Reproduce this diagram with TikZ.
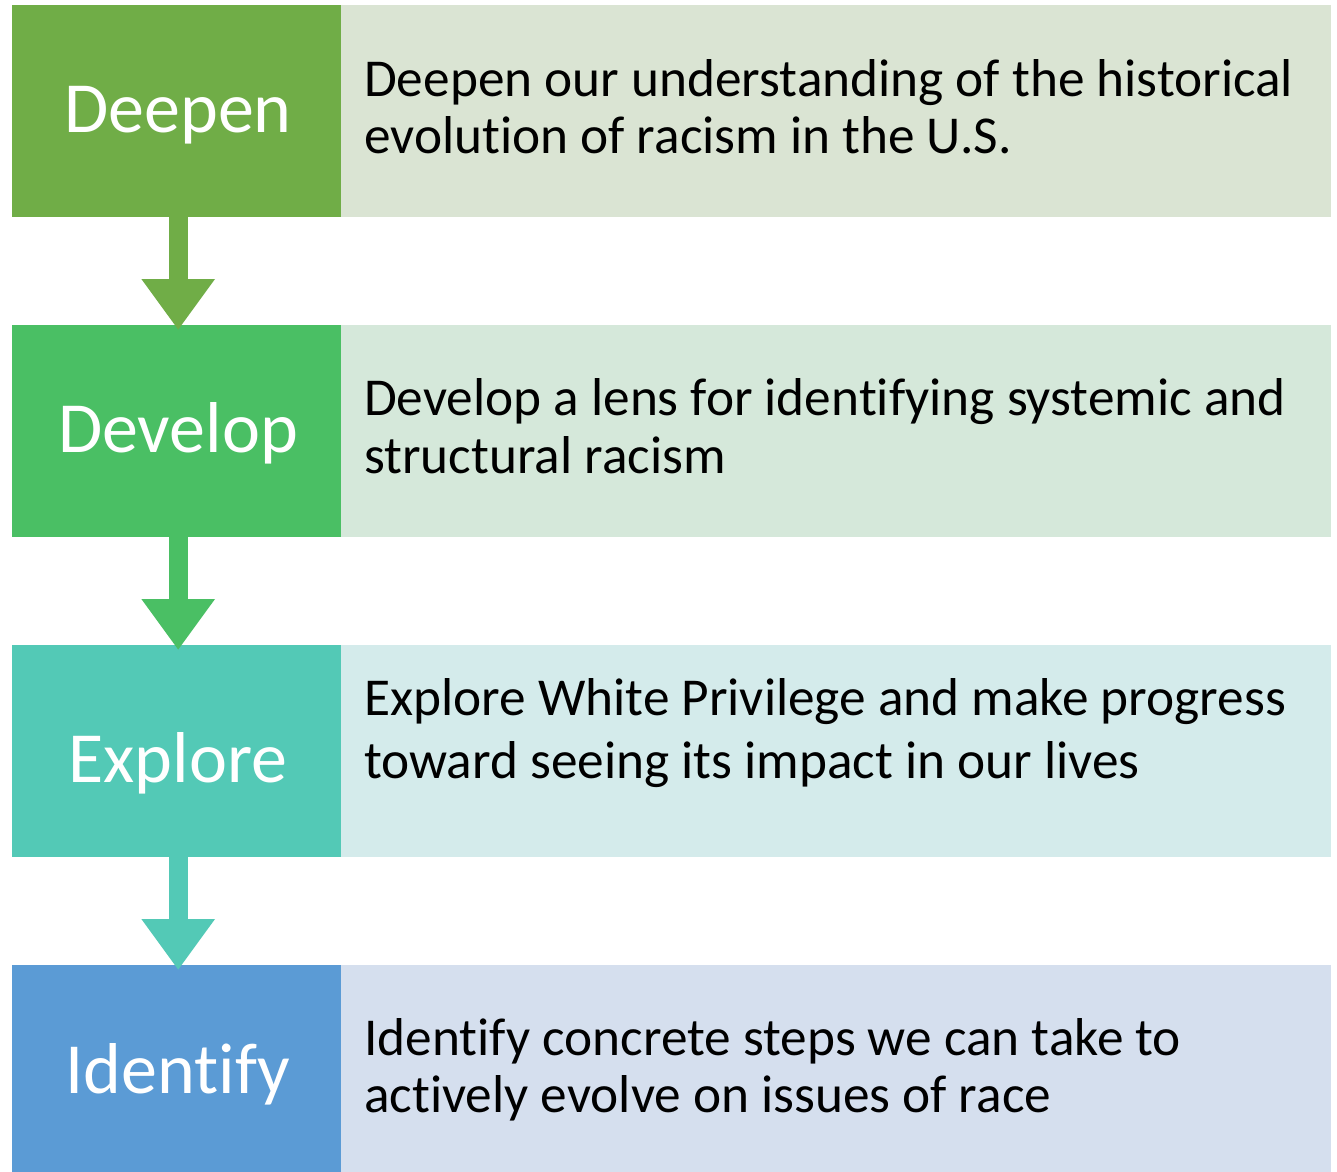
\documentclass[tikz,border=0pt]{standalone}
\usepackage{fontspec}
\setmainfont[Ligatures={CommonOff,ContextualOff}]{Carlito}
\usetikzlibrary{arrows.meta}
\definecolor{cDeepen}{HTML}{70AD47}
\definecolor{cDevelop}{HTML}{4ABF64}
\definecolor{cExplore}{HTML}{53C9B6}
\definecolor{cIdentify}{HTML}{5B9BD5}
\definecolor{lDeepen}{HTML}{DAE4D3}
\definecolor{lDevelop}{HTML}{D5E8DA}
\definecolor{lExplore}{HTML}{D4EBEB}
\definecolor{lIdentify}{HTML}{D5DFEE}
\tikzset{
  x=1pt, y=-1pt,
  headbox/.style={rectangle, inner sep=0pt, minimum width=329pt, minimum height=212pt, anchor=north west},
  descbox/.style={rectangle, inner sep=0pt, minimum width=990pt, minimum height=212pt, anchor=north west},
  headtext/.style={inner sep=0pt, anchor=base, text=white, font=\fontsize{72}{86}\selectfont},
  desctext/.style={inner sep=0pt, anchor=base west, text=black, font=\fontsize{53.3}{60}\selectfont},
  flowarrow/.style={line width=19pt, -{Triangle[width=70pt,length=51pt]}, shorten >=-5pt}
}
\begin{document}
\begin{tikzpicture}
\useasboundingbox (0,0) rectangle (1337,1171);
\fill[white] (0,0) rectangle (1337,1171);
% boxes
\node[headbox, fill=cDeepen]   (h1) at (12,5)   {};
\node[descbox, fill=lDeepen]   (b1) at (341,5)  {};
\node[headbox, fill=cDevelop]  (h2) at (12,325) {};
\node[descbox, fill=lDevelop]  (b2) at (341,325){};
\node[headbox, fill=cExplore]  (h3) at (12,645) {};
\node[descbox, fill=lExplore]  (b3) at (341,645){};
\node[headbox, fill=cIdentify] (h4) at (12,965) {};
\node[descbox, fill=lIdentify] (b4) at (341,965){};
% head labels
\node[headtext] (t1) at (178,132)  {Deepen};
\node[headtext] (t2) at (178,452)  {Develop};
\node[headtext] (t3) at (178,782)  {Explore};
\node[headtext] (t4) at (178,1093) {Identify};
% descriptions
\node[desctext] (d1a) at (364,96)   {Deepen our understanding of the historical};
\node[desctext] (d1b) at (364,153)  {evolution of racism in the U.S.};
\node[desctext] (d2a) at (364,415)  {Develop a lens for identifying systemic and};
\node[desctext] (d2b) at (364,473)  {structural racism};
\node[desctext] (d3a) at (364,715)  {Explore White Privilege and make progress};
\node[desctext] (d3b) at (364,778)  {toward seeing its impact in our lives};
\node[desctext] (d4a) at (364,1055) {Identify concrete steps we can take to};
\node[desctext] (d4b) at (364,1112) {actively evolve on issues of race};
% arrows
\draw[flowarrow, draw=cDeepen, fill=cDeepen]   ([xshift=1.5pt]h1.south) -- ([xshift=1.5pt]h2.north);
\draw[flowarrow, draw=cDevelop, fill=cDevelop] ([xshift=1.5pt]h2.south) -- ([xshift=1.5pt]h3.north);
\draw[flowarrow, draw=cExplore, fill=cExplore] ([xshift=1.5pt]h3.south) -- ([xshift=1.5pt]h4.north);
\end{tikzpicture}
\end{document}
